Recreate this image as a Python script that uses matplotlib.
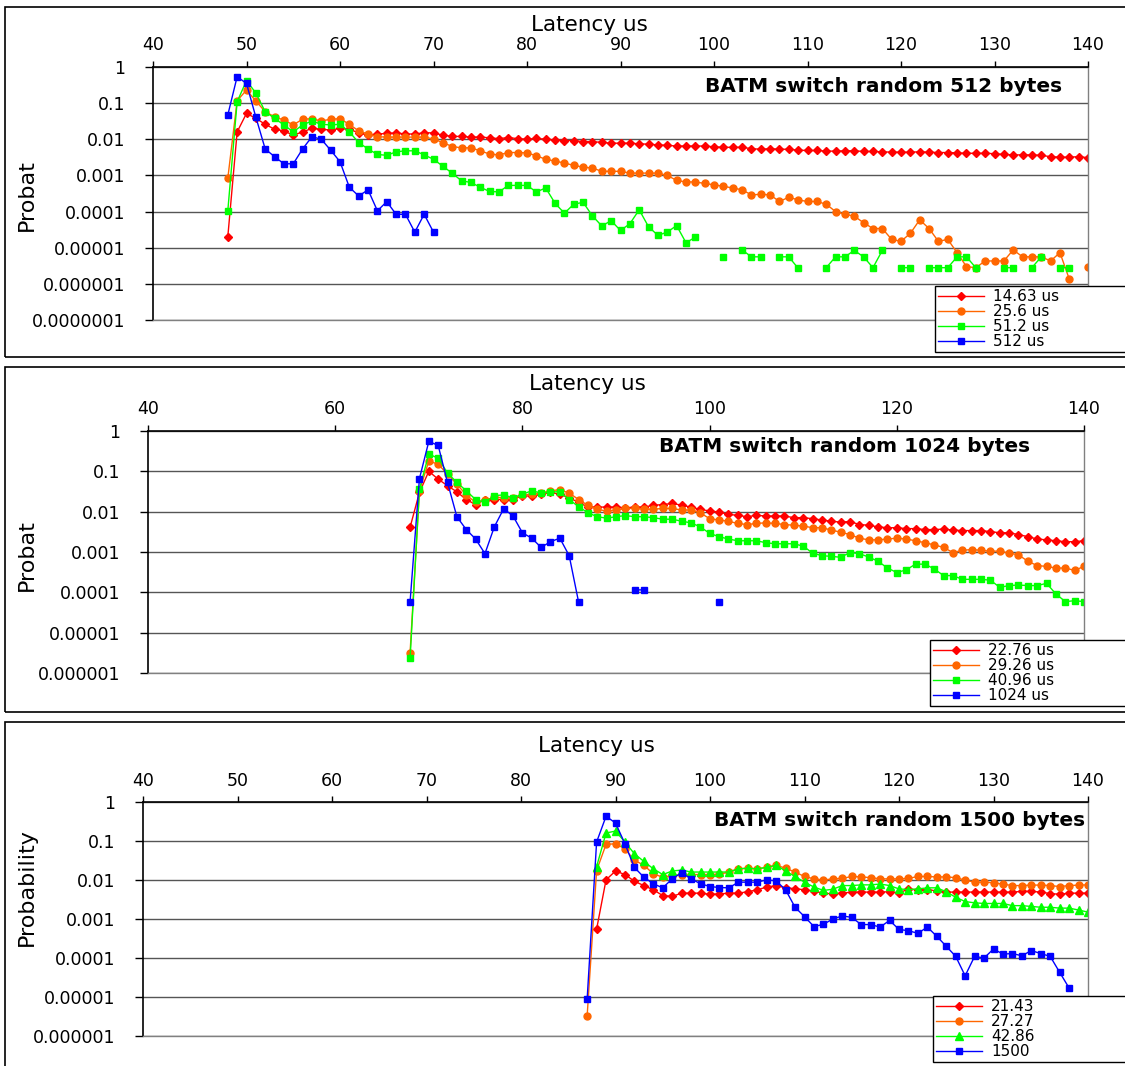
import matplotlib.pyplot as plt
import numpy as np
from matplotlib.patches import Rectangle
from matplotlib.ticker import NullLocator, FixedLocator, FixedFormatter

nan = np.nan

# ---------------- 512 bytes ----------------
lat_512 = np.arange(48, 141)
lat_512_blue = np.arange(48, 71)
red_512 = [2e-5, 0.016, 0.052, 0.038, 0.026, 0.019, 0.017, 0.013, 0.016, 0.020,
           0.019, 0.018, 0.020, 0.019, 0.015, 0.013, 0.014, 0.0145, 0.015, 0.014,
           0.014, 0.0152, 0.015, 0.013, 0.012, 0.012, 0.0115, 0.0115, 0.011, 0.0104,
           0.0112, 0.0104, 0.010, 0.0106, 0.010, 0.0096, 0.0092, 0.0092, 0.0086, 0.0086,
           0.0082, 0.0078, 0.0078, 0.0078, 0.0075, 0.0073, 0.0070, 0.0068, 0.0065, 0.0065,
           0.0065, 0.0065, 0.0062, 0.0060, 0.0060, 0.0060, 0.0055, 0.0053, 0.0055, 0.0053,
           0.0053, 0.0050, 0.0049, 0.0049, 0.0047, 0.0047, 0.0048, 0.0048, 0.0046, 0.0046,
           0.0045, 0.0044, 0.0044, 0.0044, 0.0045, 0.0044, 0.0043, 0.0043, 0.0042, 0.0041,
           0.0041, 0.0041, 0.0040, 0.0038, 0.0037, 0.0037, 0.0037, 0.0036, 0.0033, 0.0032,
           0.0032, 0.0033, 0.0031]
orange_512 = [0.00083, 0.117, 0.23, 0.115, 0.058, 0.042, 0.034, 0.025, 0.036, 0.037,
              0.032, 0.036, 0.037, 0.026, 0.017, 0.014, 0.0118, 0.0115, 0.0115, 0.0115,
              0.0115, 0.0115, 0.0102, 0.0081, 0.0063, 0.0058, 0.0058, 0.0048, 0.0039, 0.0037,
              0.0043, 0.0043, 0.0042, 0.0035, 0.0028, 0.0025, 0.0022, 0.0019, 0.0017, 0.0016,
              0.0013, 0.0013, 0.0013, 0.00116, 0.00116, 0.00116, 0.00116, 0.0010, 0.00073, 0.00066,
              0.00066, 0.0006, 0.00055, 0.0005, 0.00045, 0.0004, 0.00029, 0.0003, 0.00029, 0.00019,
              0.00025, 0.00021, 0.00019, 0.00019, 0.00016, 0.0001, 8.4e-5, 7.5e-5, 4.9e-5, 3.4e-5,
              3.4e-5, 1.7e-5, 1.5e-5, 2.5e-5, 5.9e-5, 3.4e-5, 1.5e-5, 1.7e-5, 7.3e-6, 3.0e-6,
              2.8e-6, 4.3e-6, 4.3e-6, 4.3e-6, 8.7e-6, 5.6e-6, 5.6e-6, 5.6e-6, 4.3e-6, 7.3e-6,
              1.35e-6, nan, 3e-6]
green_512 = [0.000105, 0.11, 0.42, 0.19, 0.058, 0.038, 0.025, 0.016, 0.025, 0.032,
             0.026, 0.025, 0.026, 0.016, 0.0081, 0.0054, 0.0038, 0.0036, 0.0045, 0.0048,
             0.0048, 0.0037, 0.0028, 0.0018, 0.00115, 0.00071, 0.00064, 0.00047, 0.00036, 0.00035,
             0.00053, 0.00053, 0.00053, 0.00035, 0.00045, 0.00017, 0.00009, 0.00016, 0.00018, 0.000076,
             0.00004, 0.000056, 0.00003, 0.000046, 0.000112, 0.000038, 0.000022, 0.000027, 0.000041, 0.0000138,
             0.0000194, nan, nan, 5.6e-6, nan, 8.7e-6, 5.6e-6, 5.6e-6, nan, 5.6e-6,
             5.6e-6, 2.7e-6, nan, nan, 2.8e-6, 5.6e-6, 5.6e-6, 8.4e-6, 5.6e-6, 2.8e-6,
             8.4e-6, nan, 2.8e-6, 2.8e-6, nan, 2.8e-6, 2.8e-6, 2.8e-6, 5.6e-6, 5.6e-6,
             2.8e-6, nan, nan, 2.8e-6, 2.8e-6, nan, 2.8e-6, 5.6e-6, nan, 2.8e-6,
             2.8e-6, nan, nan]
blue_512 = [0.047, 0.54, 0.35, 0.041, 0.0054, 0.0033, 0.0021, 0.0021, 0.0054, 0.0118,
            0.010, 0.005, 0.0024, 0.00047, 0.00027, 0.0004, 0.000105, 0.000188, 0.000084, 0.000084,
            0.000027, 0.000084, 0.000027]

# ---------------- 1024 bytes ----------------
lat_1024 = np.arange(68, 141)
lat_1024_blue = np.arange(68, 102)
red_1024 = [0.0041, 0.03, 0.1, 0.064, 0.044, 0.031, 0.020, 0.015, 0.020, 0.020,
            0.020, 0.020, 0.025, 0.024, 0.027, 0.030, 0.027, 0.022, 0.017, 0.013,
            0.013, 0.013, 0.013, 0.0125, 0.013, 0.013, 0.0144, 0.015, 0.016, 0.0145,
            0.013, 0.0114, 0.0104, 0.0098, 0.0086, 0.0081, 0.0075, 0.0081, 0.0078, 0.0078,
            0.0078, 0.0071, 0.0071, 0.0067, 0.0062, 0.0058, 0.0055, 0.0057, 0.0048, 0.0046,
            0.0042, 0.0040, 0.0040, 0.0038, 0.0038, 0.0036, 0.0036, 0.0037, 0.0035, 0.0034,
            0.0034, 0.0034, 0.0032, 0.0030, 0.0030, 0.0027, 0.0024, 0.0021, 0.0020, 0.0019,
            0.0018, 0.0018, 0.0019]
orange_1024 = [3.2e-6, 0.033, 0.18, 0.15, 0.085, 0.048, 0.026, 0.017, 0.019, 0.023,
               0.022, 0.022, 0.026, 0.027, 0.029, 0.033, 0.035, 0.029, 0.020, 0.0144,
               0.0114, 0.0104, 0.011, 0.012, 0.012, 0.0115, 0.0115, 0.012, 0.012, 0.011,
               0.011, 0.0094, 0.0067, 0.0062, 0.0058, 0.0051, 0.0048, 0.0051, 0.0053, 0.0051,
               0.0048, 0.0046, 0.0044, 0.0040, 0.0040, 0.0035, 0.0031, 0.0027, 0.0022, 0.0020,
               0.0020, 0.0021, 0.0022, 0.0021, 0.0019, 0.0017, 0.0015, 0.0013, 0.00097, 0.0011,
               0.00115, 0.0011, 0.00105, 0.00105, 0.00094, 0.00085, 0.00059, 0.00046, 0.00044, 0.0004,
               0.0004, 0.00035, 0.00044]
green_1024 = [2.3e-6, 0.036, 0.27, 0.21, 0.091, 0.053, 0.033, 0.020, 0.017, 0.025,
              0.026, 0.022, 0.027, 0.033, 0.029, 0.031, 0.031, 0.020, 0.0133, 0.0094,
              0.0075, 0.0069, 0.0075, 0.008, 0.0075, 0.0075, 0.0071, 0.0065, 0.0065, 0.0058,
              0.0053, 0.0042, 0.0029, 0.0024, 0.0021, 0.0019, 0.0019, 0.0019, 0.0017, 0.0016,
              0.0016, 0.0016, 0.0014, 0.00094, 0.00081, 0.00078, 0.00074, 0.00097, 0.00091, 0.00075,
              0.00059, 0.0004, 0.00031, 0.00036, 0.0005, 0.0005, 0.00038, 0.00026, 0.00026, 0.00021,
              0.00021, 0.00021, 0.0002, 0.000133, 0.000147, 0.000152, 0.000147, 0.000147, 0.000167, 0.000091,
              0.000059, 0.000062, 0.000059]
blue_1024 = [5.8e-5, 0.066, 0.55, 0.44, 0.053, 0.0075, 0.0036, 0.0021, 0.00091, 0.0042,
             0.0118, 0.0078, 0.003, 0.0022, 0.0013, 0.0018, 0.0022, 0.00081, 5.8e-5, nan,
             nan, nan, nan, nan, 0.000115, 0.000115, nan, nan, nan, nan,
             nan, nan, nan, 5.8e-5]

# ---------------- 1500 bytes ----------------
lat_1500 = np.arange(87, 141)
lat_1500_blue = np.arange(87, 139)
red_1500 = [nan, 0.00055, 0.0101, 0.017, 0.0138, 0.0093, 0.0072, 0.0056, 0.0040, 0.0038,
            0.0046, 0.0046, 0.0046, 0.0043, 0.0044, 0.0046, 0.0046, 0.0050, 0.0056, 0.0066,
            0.0072, 0.0063, 0.0060, 0.0056, 0.0052, 0.0046, 0.0044, 0.0046, 0.0049, 0.0049,
            0.0049, 0.0049, 0.0050, 0.0047, 0.0058, 0.0056, 0.0056, 0.0053, 0.0049, 0.0049,
            0.0049, 0.0049, 0.0049, 0.0049, 0.0049, 0.0049, 0.0051, 0.0051, 0.0049, 0.0045,
            0.0043, 0.0046, 0.0046, 0.0046]
orange_1500 = [3.3e-6, 0.0175, 0.082, 0.085, 0.063, 0.032, 0.024, 0.0144, 0.0118, 0.013,
               0.0138, 0.0138, 0.0138, 0.0138, 0.014, 0.016, 0.0194, 0.020, 0.0194, 0.021,
               0.024, 0.020, 0.016, 0.0123, 0.0107, 0.010, 0.0107, 0.011, 0.0123, 0.012,
               0.0115, 0.0107, 0.0107, 0.0107, 0.011, 0.0123, 0.0123, 0.012, 0.012, 0.0115,
               0.0099, 0.0088, 0.0088, 0.0085, 0.0078, 0.0072, 0.0072, 0.0074, 0.0074, 0.0072,
               0.0068, 0.0072, 0.0074, 0.0075]
green_1500 = [nan, 0.022, 0.16, 0.18, 0.094, 0.047, 0.030, 0.0194, 0.0138, 0.017,
              0.018, 0.016, 0.016, 0.016, 0.016, 0.016, 0.0194, 0.020, 0.0194, 0.021,
              0.024, 0.017, 0.0123, 0.0088, 0.0066, 0.0054, 0.0058, 0.0072, 0.0072, 0.0075,
              0.0075, 0.0079, 0.0072, 0.0059, 0.0057, 0.0059, 0.0063, 0.0063, 0.0050, 0.0036,
              0.0028, 0.0026, 0.0025, 0.0025, 0.0025, 0.0022, 0.0022, 0.0021, 0.0020, 0.0020,
              0.0019, 0.0019, 0.0017, 0.0015]
blue_1500 = [8.9e-6, 0.094, 0.43, 0.29, 0.085, 0.021, 0.0118, 0.008, 0.0063, 0.0107,
             0.0154, 0.0107, 0.008, 0.0068, 0.0064, 0.0063, 0.0088, 0.0088, 0.0088, 0.0101,
             0.0095, 0.0056, 0.002, 0.00115, 0.00064, 0.00073, 0.001, 0.0012, 0.0011, 0.00072,
             0.00072, 0.00062, 0.00092, 0.00054, 0.0005, 0.00043, 0.00062, 0.00036, 0.0002, 0.00011,
             3.5e-5, 0.00011, 0.0001, 0.00017, 0.000126, 0.00013, 0.000114, 0.000155, 0.00013, 0.00011,
             4.3e-5, 1.7e-5]

W, H = 1125, 1066
RED, ORANGE, GREEN, BLUE = '#FF0000', '#FF6600', '#00FF00', '#0000FF'

plt.rcParams['font.family'] = ['DejaVu Sans']
fig = plt.figure(figsize=(W / 100, H / 100), dpi=100)


def fx(px):
    return px / W


def fy(py):
    return 1 - py / H


def make_panel(left, right, top, bottom, ymin_exp, xstep, title, title_x, title_y,
               head_x, head_y, ylab, ylab_y, frame_top, frame_bottom):
    fig.add_artist(Rectangle((fx(5), fy(frame_bottom)), fx(1140), fy(frame_top) - fy(frame_bottom),
                             transform=fig.transFigure, fill=False, ec='black', lw=1.2))
    ax = fig.add_axes([fx(left), fy(bottom), fx(right - left), fy(top) - fy(bottom)])
    ax.set_yscale('log')
    ax.set_xlim(40, 140)
    ax.set_ylim(10.0 ** ymin_exp, 1)
    exps = list(range(ymin_exp, 1))
    ax.yaxis.set_major_locator(FixedLocator([10.0 ** e for e in exps]))
    ax.yaxis.set_major_formatter(FixedFormatter(['1' if e == 0 else '0.' + '0' * (-e - 1) + '1' for e in exps]))
    ax.yaxis.set_minor_locator(NullLocator())
    ax.set_xticks(np.arange(40, 141, xstep))
    ax.xaxis.tick_top()
    ax.tick_params(axis='x', direction='out', length=4, width=1, pad=5, labelsize=12.5)
    ax.tick_params(axis='y', direction='out', length=6, width=1, pad=14, labelsize=12.5)
    ax.yaxis.grid(True, color='#555555', lw=1)
    ax.set_axisbelow(True)
    for s in ['top', 'left']:
        ax.spines[s].set_color('black')
        ax.spines[s].set_linewidth(1.2)
    for s in ['right', 'bottom']:
        ax.spines[s].set_color('#808080')
        ax.spines[s].set_linewidth(1)
    fig.text(fx(title_x), fy(title_y), title, ha='right', va='center', fontsize=14.5, fontweight='bold')
    fig.text(fx(head_x), fy(head_y), 'Latency us', ha='center', va='center', fontsize=15.5)
    fig.text(fx(27), fy(ylab_y), ylab, ha='center', va='center', rotation=90, fontsize=16)
    return ax


def add_legend(ax, lx, ly_top, ly_bottom):
    leg = ax.legend(loc='upper left',
                    bbox_to_anchor=(fx(lx), fy(ly_bottom), fx(1140 - lx), fy(ly_top) - fy(ly_bottom)),
                    bbox_transform=fig.transFigure, mode='expand',
                    fontsize=11, labelspacing=0, handlelength=3.0, handletextpad=0.6,
                    borderpad=0.2, borderaxespad=0, fancybox=False, framealpha=1,
                    edgecolor='black', numpoints=1)
    leg.get_frame().set_linewidth(1)
    leg.set_zorder(10)


lw = 1.0

# panel 1
ax1 = make_panel(153, 1088, 67, 320, -7, 10, 'BATM switch random 512 bytes', 1062, 87,
                 589, 25, 'Probat', 195, 7, 357)
ax1.plot(lat_512, red_512, color=RED, marker='D', ms=4.5, lw=lw, label='14.63 us')
ax1.plot(lat_512, orange_512, color=ORANGE, marker='o', ms=5, lw=lw, label='25.6 us')
ax1.plot(lat_512, green_512, color=GREEN, marker='s', ms=5, lw=lw, label='51.2 us')
ax1.plot(lat_512_blue, blue_512, color=BLUE, marker='s', ms=5, lw=lw, label='512 us')
add_legend(ax1, 935, 286, 357)

# panel 2
ax2 = make_panel(148, 1084, 431, 673, -6, 20, 'BATM switch random 1024 bytes', 1030, 446,
                 587, 384, 'Probat', 555, 367, 712)
ax2.plot(lat_1024, red_1024, color=RED, marker='D', ms=4.5, lw=lw, label='22.76 us')
ax2.plot(lat_1024, orange_1024, color=ORANGE, marker='o', ms=5, lw=lw, label='29.26 us')
ax2.plot(lat_1024, green_1024, color=GREEN, marker='s', ms=5, lw=lw, label='40.96 us')
ax2.plot(lat_1024_blue, blue_1024, color=BLUE, marker='s', ms=5, lw=lw, label='1024 us')
add_legend(ax2, 930, 640, 712)

# panel 3
ax3 = make_panel(143, 1088, 802, 1036, -6, 10, 'BATM switch random 1500 bytes', 1085, 820,
                 596, 746, 'Probability', 887, 722, 1075)
ax3.plot(lat_1500, red_1500, color=RED, marker='D', ms=4.5, lw=lw, label='21.43')
ax3.plot(lat_1500, orange_1500, color=ORANGE, marker='o', ms=5, lw=lw, label='27.27')
ax3.plot(lat_1500, green_1500, color=GREEN, marker='^', ms=5.5, lw=lw, label='42.86')
ax3.plot(lat_1500_blue, blue_1500, color=BLUE, marker='s', ms=5, lw=lw, label='1500')
add_legend(ax3, 933, 996, 1066)

fig.savefig('out.png', dpi=100)
